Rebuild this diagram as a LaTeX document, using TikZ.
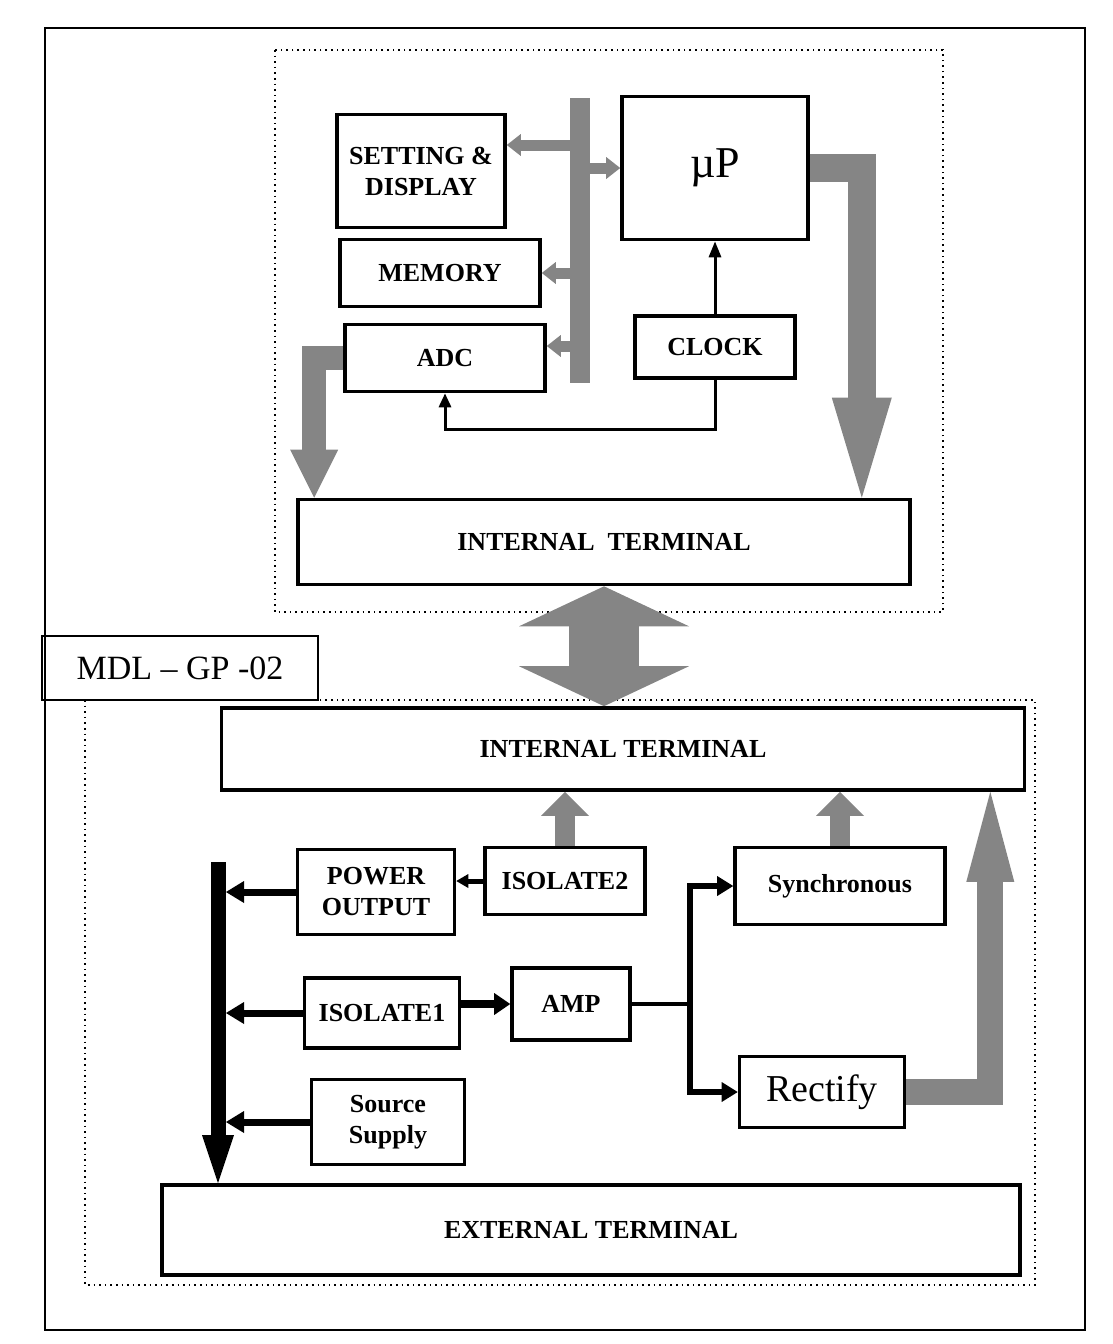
\documentclass[tikz,border=0pt]{standalone}
\usepackage{fontspec}
\setmainfont{Liberation Serif}
\usetikzlibrary{arrows.meta,positioning,calc}

\begin{document}
\begin{tikzpicture}[x=0.5pt,y=-0.5pt,line join=miter,
  blkbox/.style={draw,line width=1.8pt,font=\bfseries\fontsize{13}{15.5}\selectfont,align=center,inner sep=0pt},
  grayfill/.style={fill=black!48,draw=none,inner sep=0pt},
  grayarrow/.style n args={3}{draw=black!48,line width=#1,-{Triangle[width=#2,length=#3,line width=0pt]}},
  grayboth/.style n args={3}{draw=black!48,line width=#1,{Triangle[width=#2,length=#3,line width=0pt]}-{Triangle[width=#2,length=#3,line width=0pt]}},
  blkarrow/.style n args={3}{line width=#1,-{Triangle[width=#2,length=#3,line width=0pt]}},
  frameline/.style={line width=0.8pt},
  dotline/.style={line width=1.3pt,dash pattern=on 0.8pt off 2pt}]
  \useasboundingbox (0,0) rectangle (1113,1344);
  % Frame and board outlines
  \draw[frameline] (45,28) rectangle (1085,1330);
  \draw[dotline] (275,50) rectangle (943,612);
  \draw[dotline] (85,700) rectangle (1035,1285);
  % Upper board
  \node[blkbox,minimum width=84pt,minimum height=56.5pt] (set) at (421,171) {SETTING \&\\DISPLAY};
  \node[blkbox,minimum width=100pt,minimum height=33.5pt] (mem) at (440,273) {MEMORY};
  \node[blkbox,minimum width=100pt,minimum height=33.5pt] (adc) at (445,358) {ADC};
  \node[grayfill,minimum width=10pt,minimum height=142.5pt] (bus) at (580,240) {};
  \node[blkbox,minimum width=93pt,minimum height=71.5pt,font=\fontsize{22}{24}\selectfont] (up) at (715,168) {µP};
  \node[blkbox,minimum width=80pt,minimum height=31pt] (clk) at (715,347) {CLOCK};
  \node[blkbox,minimum width=306pt,minimum height=42.5pt] (itop) at (604,542) {INTERNAL~~TERMINAL};
  % Label
  \node[draw,line width=1pt,minimum width=138pt,minimum height=32pt,font=\fontsize{17}{20}\selectfont] (mdl) at (180,668) {MDL – GP -02};
  % Lower board
  \node[blkbox,minimum width=401.5pt,minimum height=41pt] (ibot) at (623,749) {INTERNAL TERMINAL};
  \node[blkbox,minimum width=78.5pt,minimum height=42.5pt] (pwr) at (376,892) {POWER\\OUTPUT};
  \node[blkbox,minimum width=80pt,minimum height=33.5pt] (iso2) at (565,881) {ISOLATE2};
  \node[blkbox,minimum width=105pt,minimum height=38.5pt] (syn) at (840,886) {Synchronous};
  \node[blkbox,minimum width=77.5pt,minimum height=35pt] (iso1) at (382,1013) {ISOLATE1};
  \node[blkbox,minimum width=59pt,minimum height=36pt] (amp) at (571,1004) {AMP};
  \node[blkbox,minimum width=82.5pt,minimum height=35.5pt,font=\fontsize{19}{21}\selectfont] (rect) at (822,1092) {Rectify};
  \node[blkbox,minimum width=76.5pt,minimum height=42.5pt] (src) at (388,1122) {Source\\Supply};
  \node[blkbox,minimum width=429pt,minimum height=45pt] (ext) at (591,1230) {EXTERNAL TERMINAL};
  % Upper connectors
  \draw[grayarrow={5.5pt}{11pt}{7pt}] ([yshift=13pt]bus.west |- set.east) -- ([yshift=13pt]set.east);
  \draw[grayarrow={5.5pt}{11pt}{7pt}] (bus.east |- up.west) -- (up.west);
  \draw[grayarrow={5.5pt}{11pt}{7pt}] (bus.west |- mem.east) -- (mem.east);
  \draw[grayarrow={5.5pt}{11pt}{7pt}] ([yshift=6pt]bus.west |- adc.east) -- ([yshift=6pt]adc.east);
  \draw[line width=1.5pt,-{Triangle[width=6pt,length=8pt]}] (clk) -- (up);
  \draw[line width=1.5pt,-{Triangle[width=6pt,length=7pt]}] (clk.south) -- ++(0,50) -| (adc.south);
  \draw[grayarrow={12pt}{24pt}{24pt}] (adc.west) -| ([xshift=9pt]itop.north west);
  \draw[grayarrow={14pt}{30pt}{50pt}] (up.east) -| ([xshift=-25pt]itop.north east);
  \draw[grayboth={35pt}{85pt}{20pt}] (itop.south) -- (itop.south |- ibot.north);
  % Lower connectors
  \coordinate (pbus) at (218,862);
  \coordinate (pbusr) at (226,862);
  \draw[blkarrow={7.5pt}{16pt}{24pt}] (pbus) -- (pbus |- ext.north);
  \draw[blkarrow={3.5pt}{11pt}{9pt}] (pwr.west) -- (pbusr |- pwr.west);
  \draw[blkarrow={3.5pt}{11pt}{9pt}] (iso1.west) -- (pbusr |- iso1.west);
  \draw[blkarrow={3.5pt}{11pt}{9pt}] (src.west) -- (pbusr |- src.west);
  \draw[blkarrow={2.5pt}{7pt}{6pt}] (iso2.west) -- (iso2.west -| pwr.east);
  \draw[blkarrow={4pt}{11pt}{8pt}] (iso1.east |- amp.west) -- (amp.west);
  \coordinate (split) at ([xshift=29pt]amp.east);
  \draw[line width=2pt] (amp.east) -- (split);
  \draw[blkarrow={3pt}{10pt}{8pt}] (split) |- (syn.west);
  \draw[blkarrow={3pt}{10pt}{8pt}] (split) |- (rect.west);
  \draw[grayarrow={10pt}{24pt}{12pt}] (iso2.north) -- (iso2.north |- ibot.south);
  \draw[grayarrow={10pt}{24pt}{12pt}] (syn.north) -- (syn.north |- ibot.south);
  \draw[grayarrow={13pt}{24pt}{45pt}] (rect.east) -| ([xshift=-18pt]ibot.south east);
\end{tikzpicture}
\end{document}
